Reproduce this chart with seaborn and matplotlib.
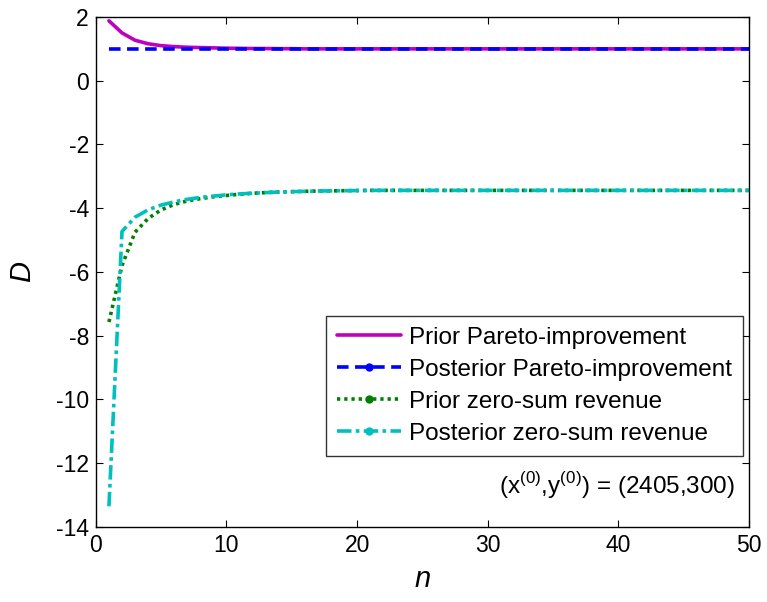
import numpy as np
import pandas as pd
import seaborn as sns
import matplotlib
matplotlib.use("Agg")
import matplotlib.pyplot as plt
from matplotlib.lines import Line2D

n_values = list(range(1, 51))

prior_pareto = [1.88, 1.50, 1.27, 1.16, 1.10, 1.07, 1.05, 1.04, 1.03, 1.02,
                1.015, 1.01, 1.01, 1.005, 1.005, 1.0, 1.0, 1.0, 1.0, 1.0,
                1.0, 1.0, 1.0, 1.0, 1.0, 1.0, 1.0, 1.0, 1.0, 1.0,
                1.0, 1.0, 1.0, 1.0, 1.0, 1.0, 1.0, 1.0, 1.0, 1.0,
                1.0, 1.0, 1.0, 1.0, 1.0, 1.0, 1.0, 1.0, 1.0, 1.0]
posterior_pareto = [1.0, 1.0, 1.0, 1.0, 1.0, 1.0, 1.0, 1.0, 1.0, 1.0,
                    1.0, 1.0, 1.0, 1.0, 1.0, 1.0, 1.0, 1.0, 1.0, 1.0,
                    1.0, 1.0, 1.0, 1.0, 1.0, 1.0, 1.0, 1.0, 1.0, 1.0,
                    1.0, 1.0, 1.0, 1.0, 1.0, 1.0, 1.0, 1.0, 1.0, 1.0,
                    1.0, 1.0, 1.0, 1.0, 1.0, 1.0, 1.0, 1.0, 1.0, 1.0]
prior_zero = [-7.57, -5.80, -4.75, -4.32, -4.05, -3.88, -3.77, -3.70, -3.64, -3.60,
              -3.56, -3.53, -3.51, -3.49, -3.48, -3.47, -3.46, -3.455, -3.45, -3.445,
              -3.44, -3.44, -3.44, -3.44, -3.44, -3.44, -3.44, -3.44, -3.44, -3.44,
              -3.44, -3.44, -3.44, -3.44, -3.44, -3.44, -3.44, -3.44, -3.44, -3.44,
              -3.44, -3.44, -3.44, -3.44, -3.44, -3.44, -3.44, -3.44, -3.44, -3.44]
posterior_zero = [-13.35, -4.73, -4.28, -4.05, -3.90, -3.80, -3.72, -3.66, -3.62, -3.58,
                  -3.55, -3.53, -3.51, -3.49, -3.48, -3.47, -3.46, -3.455, -3.45, -3.445,
                  -3.44, -3.44, -3.44, -3.44, -3.44, -3.44, -3.44, -3.44, -3.44, -3.44,
                  -3.44, -3.44, -3.44, -3.44, -3.44, -3.44, -3.44, -3.44, -3.44, -3.44,
                  -3.44, -3.44, -3.44, -3.44, -3.44, -3.44, -3.44, -3.44, -3.44, -3.44]

labels = ["Prior Pareto-improvement", "Posterior Pareto-improvement",
          "Prior zero-sum revenue", "Posterior zero-sum revenue"]
x_ticks = [0, 10, 20, 30, 40, 50]
y_ticks = [-14, -12, -10, -8, -6, -4, -2, 0, 2]

sns.set_style("ticks")
plt.rcParams['font.family'] = ['Liberation Sans', 'DejaVu Sans']
plt.rcParams['mathtext.fontset'] = 'custom'
plt.rcParams['mathtext.rm'] = 'Liberation Sans'
plt.rcParams['text.color'] = 'black'
plt.rcParams['axes.labelcolor'] = 'black'
plt.rcParams['xtick.color'] = 'black'
plt.rcParams['ytick.color'] = 'black'

fig = plt.figure(figsize=(7.67, 6.02), dpi=100)
ax = fig.add_axes([0.125, 0.1246, 0.8515, 0.8472])

colors = ["#BF00BF", "#0000FF", "#007F00", "#00BFBF"]
styles = [dict(linestyle='-'),
          dict(linestyle=(0, (3.2, 1.8))),
          dict(linestyle=(0, (0.9, 1.1))),
          dict(linestyle=(0, (4.0, 1.2, 1.0, 1.2)))]
series = [prior_pareto, posterior_pareto, prior_zero, posterior_zero]

df = pd.DataFrame({"n": n_values})
for lab, vals in zip(labels, series):
    df[lab] = vals

for lab, col, st in zip(labels, colors, styles):
    sns.lineplot(data=df, x="n", y=lab, ax=ax, color=col, linewidth=2.6, **st)

ax.set_xlim(0, 50)
ax.set_ylim(-14, 2)
ax.set_xticks(x_ticks)
ax.set_yticks(y_ticks)
ax.set_xticklabels([str(t) for t in x_ticks], fontsize=16.5)
ax.set_yticklabels([str(t) for t in y_ticks], fontsize=16.5)
ax.tick_params(direction='in', top=True, right=True, length=5, width=0.8, pad=5)
for sp in ax.spines.values():
    sp.set_linewidth(1.0)
    sp.set_color('black')
ax.set_xlabel("n", fontsize=21, style='italic', labelpad=6)
ax.set_ylabel("D", fontsize=21, style='italic', labelpad=14)

handles = []
for i, (lab, col, st) in enumerate(zip(labels, colors, styles)):
    marker = None if i == 0 else 'o'
    handles.append(Line2D([0], [0], color=col, linewidth=2.6, marker=marker,
                          markersize=5, **st))
leg = ax.legend(handles=handles, labels=labels, loc='upper right',
                bbox_to_anchor=(0.9908, 0.4137), fontsize=17.5, frameon=True,
                fancybox=False, edgecolor='black', handlelength=2.63,
                borderpad=0.45, labelspacing=0.41, handletextpad=0.33,
                borderaxespad=0)
leg.get_frame().set_linewidth(1.0)

ax.text(0.9786, 0.082, r"(x$^{(0)}$,y$^{(0)}$) = (2405,300)", transform=ax.transAxes,
        ha='right', va='center', fontsize=17.5)

fig.savefig("out.png", dpi=100)
